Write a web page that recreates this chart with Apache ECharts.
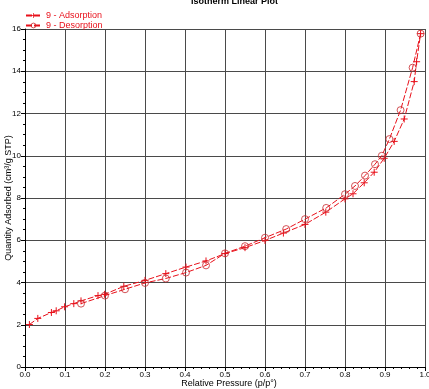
<!DOCTYPE html>
<html>
<head>
<meta charset="utf-8">
<script src="https://cdn.jsdelivr.net/npm/echarts@6/dist/echarts.min.js"></script>
<style>
  html, body { margin: 0; padding: 0; background: #fff; }
  #chart { width: 429px; height: 389px; }
</style>
</head>
<body>
<div id="chart"></div>
<script>
// isotherm data
var adsP = [0.011, 0.032, 0.066, 0.078, 0.099, 0.122, 0.14, 0.1825, 0.199, 0.247, 0.30, 0.352, 0.4025, 0.4525,
  0.50, 0.55, 0.60, 0.646, 0.70, 0.752, 0.80, 0.82, 0.848, 0.873, 0.898, 0.923, 0.948, 0.973, 0.979, 0.989]
var adsQ = [2.01, 2.3, 2.58, 2.66, 2.85, 3.0, 3.13, 3.38, 3.44, 3.82, 4.1, 4.42, 4.73, 5.02,
  5.37, 5.65, 5.99, 6.34, 6.75, 7.33, 7.96, 8.2, 8.72, 9.22, 9.88, 10.68, 11.74, 13.51, 14.45, 15.78]
var desP = [0.14, 0.2, 0.25, 0.30, 0.352, 0.4025, 0.4525, 0.50, 0.55, 0.60, 0.653, 0.70, 0.753, 0.80,
  0.825, 0.85, 0.875, 0.892, 0.911, 0.939, 0.969, 0.989]
var desQ = [3.0, 3.38, 3.68, 3.98, 4.19, 4.47, 4.81, 5.38, 5.72, 6.12, 6.53, 7.0, 7.53, 8.18,
  8.57, 9.06, 9.6, 10.0, 10.79, 12.16, 14.17, 15.78]
var seriesNames = ['9 - Adsorption', '9 - Desorption']

function zip(xs, ys) {
  return xs.map(function(x, i) { return [x, ys[i]] })
}

var font = 'Liberation Sans, Arial, sans-serif'
var red = '#e8101a'
var plus = 'path://M0,-5L0,5M-5,0L5,0'

var chart = echarts.init(document.getElementById('chart'))
chart.setOption({
  animation: false,
  title: {
    text: 'Isotherm Linear Plot',
    left: 186,
    top: -8,
    textStyle: { fontFamily: font, fontSize: 9, fontWeight: 'bold', color: '#000' }
  },
  legend: {
    orient: 'vertical',
    left: 20,
    top: 6,
    itemGap: 1,
    itemWidth: 15,
    itemHeight: 6,
    textStyle: { fontFamily: font, fontSize: 9, color: red },
    data: [
      { name: seriesNames[0], itemStyle: { borderWidth: 0.8 } },
      { name: seriesNames[1], itemStyle: { borderWidth: 0.8 } }
    ]
  },
  grid: { left: 25, right: 4, top: 29, bottom: 22, outerBoundsMode: 'none', containLabel: false },
  xAxis: {
    type: 'value',
    min: 0,
    max: 1,
    interval: 0.1,
    name: 'Relative Pressure (p/p°)',
    nameLocation: 'middle',
    nameGap: 12,
    nameMoveOverlap: false,
    nameTextStyle: { fontFamily: font, fontSize: 9, color: '#000', padding: [0, 0, 0, 8] },
    axisLine: { lineStyle: { color: '#000', width: 1 } },
    axisTick: { length: 4, lineStyle: { color: '#000' } },
    minorTick: { show: true, splitNumber: 5, length: 2, lineStyle: { color: '#000' } },
    axisLabel: {
      fontFamily: font, fontSize: 8, color: '#000', margin: 4,
      formatter: function(v) { return v.toFixed(1) }
    },
    splitLine: { show: true, lineStyle: { color: '#4a4a4a', width: 1 } }
  },
  yAxis: {
    type: 'value',
    min: 0,
    max: 16,
    interval: 2,
    name: 'Quantity Adsorbed (cm³/g STP)',
    nameLocation: 'middle',
    nameRotate: 90,
    nameGap: 12,
    nameMoveOverlap: false,
    nameTextStyle: { fontFamily: font, fontSize: 9, color: '#000' },
    axisLine: { show: true, lineStyle: { color: '#000', width: 1 } },
    axisTick: { show: true, length: 4, lineStyle: { color: '#000' } },
    minorTick: { show: true, splitNumber: 4, length: 2, lineStyle: { color: '#000' } },
    axisLabel: { fontFamily: font, fontSize: 8, color: '#000', margin: 4 },
    splitLine: { show: true, lineStyle: { color: '#4a4a4a', width: 1 } }
  },
  series: [
    {
      name: seriesNames[0],
      type: 'line',
      data: zip(adsP, adsQ),
      symbol: plus,
      symbolSize: 7,
      itemStyle: { color: red, borderColor: red, borderWidth: 1 },
      lineStyle: { color: red, width: 1, type: [6, 2] }
    },
    {
      name: seriesNames[1],
      type: 'line',
      data: zip(desP, desQ),
      symbol: 'circle',
      symbolSize: 7,
      itemStyle: { color: 'rgba(255,255,255,0)', borderColor: '#c8282d', borderWidth: 0.8 },
      lineStyle: { color: red, width: 1, type: [6, 2] }
    }
  ]
})
</script>
</body>
</html>
